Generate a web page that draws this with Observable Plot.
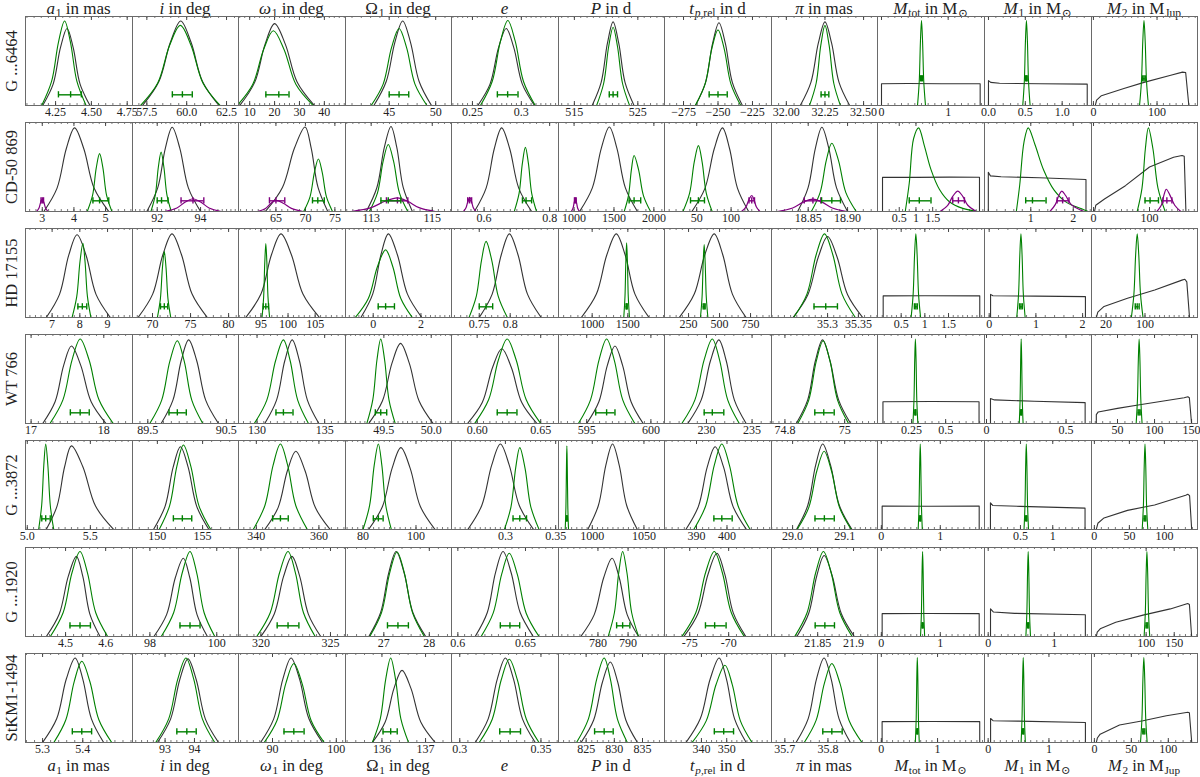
<!DOCTYPE html>
<html><head><meta charset="utf-8">
<script src="https://cdn.jsdelivr.net/npm/d3@7"></script>
<script src="https://cdn.jsdelivr.net/npm/@observablehq/plot@0.6"></script>
<style>
body{margin:0;background:#fff;}
#wrap{position:relative;width:1200px;height:777px;font-family:"Liberation Serif","DejaVu Serif",serif;color:#222;overflow:hidden;}
.ct{position:absolute;font-size:17px;white-space:nowrap;transform:translateX(-50%);line-height:18px;height:18px;}
.ct.bot{font-size:16.5px;line-height:16px;height:16px;}
.rl{position:absolute;font-size:16.5px;white-space:nowrap;transform:translate(-50%,-50%) rotate(-90deg);line-height:20px;}
.panel{position:absolute;}
sub{font-size:68%;vertical-align:baseline;position:relative;top:0.25em;line-height:0;margin-left:0.06em;}
</style></head><body><div id="wrap"></div><script>
// ---------------- DATA ----------------
const rowNames = ["G ...6464","CD-50 869","HD 17155","WT 766","G ...3872","G ...1920","StKM1-1494"];
const colTitles = [
  "<i>a</i><sub>1</sub> in mas","<i>i</i> in deg","<i>ω</i><sub>1</sub> in deg","Ω<sub>1</sub> in deg","<i>e</i>",
  "<i>P</i> in d","<i>t</i><sub><i>p</i>,rel</sub> in d","<i>π</i> in mas","<i>M</i><sub>tot</sub> in M<sub>⊙</sub>",
  "<i>M</i><sub>1</sub> in M<sub>⊙</sub>","<i>M</i><sub>2</sub> in M<sub>Jup</sub>"];

const xDomains = [
  [[4.04,4.787],[56.6,63.25],[5.5,48.5],[40.3,51.7],[0.2286,0.338],[512.5,529.2],[-288.8,-211.2],[31.904,32.59],[-0.06,1.545],[-0.054,1.398],[-3,163.6]],
  [[2.47,5.85],[90.86,95.75],[58.65,76.8],[112.16,115.63],[0.5006,0.827],[805,2133],[3.2,158.7],[18.8034,18.938],[-0.15,3.05],[-0.09,2.43],[-3.6,185.7]],
  [[6.04,9.9],[67.37,81.3],[90.86,110.6],[-1.16,3.28],[0.7052,0.878],[528,2014],[56,919],[35.209,35.381],[0,2.26],[-0.1,2.19],[-10,208]],
  [[16.923,18.395],[89.305,90.655],[128.63,136.54],[49.095,50.214],[0.5798,0.664],[592.8,601.06],[225.4,237.13],[74.755,75.11],[0,0.785],[-0.0126,0.66],[14.9,158]],
  [[4.986,5.834],[147.25,158.97],[334.3,368.5],[73.4,113.4],[0.2464,0.3528],[967.3,1069.9],[379.5,414.6],[28.9595,29.163],[-0.065,1.75],[-0.057,1.6],[-4.1,147.3]],
  [[4.4,4.667],[97.48,100.65],[318.39,326.08],[26.157,28.488],[0.5953,0.6744],[766.9,802.1],[-78.24,-64.5],[21.7856,21.9334],[-0.065,1.75],[-0.056,1.563],[2.8,191.4]],
  [[5.2575,5.5237],[91.89,95.5],[84.67,101.44],[135.164,137.595],[0.2949,0.3608],[820.1,838.9],[325.4,367.7],[35.669,35.915],[-0.068,1.835],[-0.06,1.7],[-3.9,139.5]]
];

const tickLabels = [
  [["4.25","4.50","4.75"],["57.5","60.0","62.5"],["10","20","30","40"],["45","50"],["0.25","0.3"],["515","525"],["−275","−250","−225"],["32.00","32.25","32.50"],["0","1"],["0.0","0.5","1.0"],["0","100"]],
  [["3","4","5"],["92","94"],["65","70","75"],["113","115"],["0.6","0.8"],["1000","1500","2000"],["50","100"],["18.85","18.90"],["0.5","1","1.5"],["1","2"],["0","100"]],
  [["7","8","9"],["70","75","80"],["95","100","105"],["0","2"],["0.75","0.8"],["1000","1500"],["250","500","750"],["35.3","35.35"],["0.5","1","1.5"],["0","1","2"],["20","100"]],
  [["17","18"],["89.5","90.5"],["130","135"],["49.5","50.0"],["0.60","0.65"],["595","600"],["230","235"],["74.8","75"],["0.25","0.5"],["0","0.5"],["50","100","150"]],
  [["5.0","5.5"],["150","155"],["340","360"],["80","100"],["0.3","0.35"],["1000","1050"],["390","400"],["29.0","29.1"],["0","1"],["0.5","1"],["0","50","100"]],
  [["4.5","4.6"],["98","100"],["320","325"],["27","28"],["0.6","0.65"],["780","790"],["-75","-70"],["21.85","21.9"],["0","1"],["0","1"],["100","150"]],
  [["5.3","5.4"],["93","94"],["90","100"],["136","137"],["0.3","0.35"],["825","830","835"],["340","350"],["35.7","35.8"],["0","1"],["0","1"],["0","50","100"]]
];

// black histograms, points [value, relative height]
const blackCurves = [
 [ // G ...6464
  [[4.16,0],[4.233,.24],[4.284,.65],[4.33,.865],[4.373,.65],[4.421,.24],[4.49,0]],
  [[57.225,0],[58.257,.27],[58.977,.71],[59.625,.95],[60.273,.71],[60.993,.27],[62.025,0]],
  [[6,0],[12.0,.26],[16.2,.69],[20,.92],[24.3,.69],[29.1,.26],[36,0]],
  [[43.35,0],[44.68,.27],[45.61,.71],[46.45,.95],[47.29,.71],[48.22,.27],[49.55,0]],
  [[.2555,0],[.268,.24],[.2767,.65],[.2845,.865],[.2923,.65],[.301,.24],[.3135,0]],
  [[517.8,0],[519.22,.26],[520.21,.7],[521.1,.94],[521.99,.7],[522.98,.26],[524.4,0]],
  [[-266.3,0],[-258.99,.26],[-253.89,.7],[-249.3,.93],[-244.71,.7],[-239.61,.26],[-232.3,0]],
  [[32.09,0],[32.159,.26],[32.207,.7],[32.25,.94],[32.293,.7],[32.341,.26],[32.41,0]],
  [[0,0],[0,.245],[0.4,.248],[0.9,.244],[1.48,.245],[1.48,0]],
  [[0,0],[0,.28],[.03,.26],[.15,.25],[.7,.245],[1.34,.24],[1.34,0]],
  [[3,0],[5,.06],[12.6,.11],[47.9,.19],[79.5,.26],[121.6,.34],[140,.375],[145,.37],[150,0]]
 ],
 [ // CD-50 869
  [[3.05,0],[3.467,.263],[3.758,.705],[4.02,.94],[4.312,.705],[4.636,.263],[5.1,0]],
  [[91.52,0],[92.023,.265],[92.374,.71],[92.69,.947],[93.044,.71],[93.437,.265],[94.0,0]],
  [[63.2,0],[66.1,.27],[68.13,.71],[69.95,.95],[70.99,.71],[72.14,.27],[73.8,0]],
  [[112.84,0],[113.188,.27],[113.431,.72],[113.65,.955],[113.839,.72],[114.049,.27],[114.35,0]],
  [[.5705,0],[.6062,.263],[.6311,.705],[.6535,.94],[.6782,.705],[.7057,.263],[.745,0]],
  [[1069,0],[1229,.266],[1341,.71],[1442,.95],[1537,.71],[1643,.266],[1794,0]],
  [[43,0],[62.1,.263],[75.5,.705],[87.5,.94],[97.8,.705],[109.2,.263],[125.5,0]],
  [[18.8366,0],[18.8498,.265],[18.8591,.71],[18.8674,.947],[18.8762,.71],[18.886,.265],[18.9,0]],
  [[0,0],[0,.385],[1.0,.383],[2.0,.386],[2.9,.385],[2.9,0]],
  [[0,0],[0,.44],[.05,.4],[.3,.39],[1.2,.38],[2.3,.36],[2.3,0]],
  [[1.8,0],[4,.07],[19.6,.14],[57,.29],[100,.5],[143,.61],[158,.63],[162,.62],[165,0]]
 ],
 [ // HD 17155
  [[6.79,0],[7.267,.26],[7.6,.7],[7.9,.93],[8.224,.7],[8.584,.26],[9.1,0]],
  [[68.1,0],[70.02,.263],[71.36,.705],[72.56,.94],[73.81,.705],[75.2,.263],[77.2,0]],
  [[92.2,0],[95.0,.263],[96.94,.705],[98.7,.94],[100.62,.705],[102.75,.263],[105.8,0]],
  [[-.515,0],[-.021,.263],[.325,.705],[.635,.94],[1.013,.705],[1.435,.263],[2.035,0]],
  [[.75,0],[.7709,.263],[.7856,.705],[.7987,.94],[.8126,.705],[.8279,.263],[.85,0]],
  [[848,0],[1059,.263],[1206,.705],[1338,.94],[1462,.705],[1600,.263],[1797,0]],
  [[175,0],[296,.263],[381,.705],[457,.94],[526,.705],[603.5,.263],[714,0]],
  [[35.244,0],[35.268,.255],[35.285,.68],[35.3,.91],[35.3154,.68],[35.3325,.255],[35.357,0]],
  [[.12,0],[.12,.243],[1.0,.245],[2.16,.243],[2.16,0]],
  [[.03,0],[.03,.26],[.08,.245],[1,.24],[2.06,.235],[2.06,0]],
  [[0,0],[3,.06],[15.8,.124],[64,.217],[120,.31],[176,.42],[182,.43],[186,.4],[191.6,0]]
 ],
 [ // WT 766
  [[17.16,0],[17.33,.244],[17.448,.653],[17.555,.87],[17.683,.653],[17.826,.244],[18.03,0]],
  [[89.67,0],[89.82,.263],[89.925,.705],[90.02,.94],[90.123,.705],[90.237,.263],[90.4,0]],
  [[130.57,0],[131.443,.263],[132.052,.705],[132.6,.94],[133.132,.705],[133.723,.263],[134.57,0]],
  [[49.34,0],[49.4845,.252],[49.585,.675],[49.676,.9],[49.769,.675],[49.872,.252],[50.02,0]],
  [[.5924,0],[.604,.235],[.6121,.63],[.6194,.84],[.6269,.63],[.6351,.235],[.647,0]],
  [[595.0,0],[595.946,.244],[596.606,.653],[597.2,.87],[597.794,.653],[598.454,.244],[599.4,0]],
  [[227.95,0],[229.416,.263],[230.439,.705],[231.36,.94],[232.167,.705],[233.064,.263],[234.35,0]],
  [[74.838,0],[74.876,.263],[74.902,.705],[74.926,.94],[74.951,.705],[74.98,.263],[75.02,0]],
  [[.04,0],[.04,.245],[.4,.247],[.745,.245],[.745,0]],
  [[.025,0],[.025,.28],[.05,.265],[.3,.25],[.62,.235],[.62,0]],
  [[21.4,0],[21.4,.1],[24,.13],[50,.17],[80,.21],[110,.25],[140,.29],[145,.3],[147,.29],[150,0]]
 ],
 [ // G ...3872
  [[5.15,0],[5.236,.263],[5.296,.705],[5.35,.94],[5.4405,.705],[5.541,.263],[5.685,0]],
  [[149.57,0],[150.85,.26],[151.745,.7],[152.55,.93],[153.4,.7],[154.35,.26],[155.7,0]],
  [[342.7,0],[346.96,.246],[349.93,.66],[352.6,.88],[355.57,.66],[358.87,.246],[363.6,0]],
  [[82.1,0],[87.35,.258],[91,.69],[94.3,.92],[97.78,.69],[101.65,.258],[107.2,0]],
  [[.2626,0],[.2765,.27],[.2863,.72],[.295,.96],[.3039,.72],[.3138,.27],[.328,0]],
  [[995.6,0],[1005.9,.27],[1013.1,.72],[1019.6,.96],[1026.1,.72],[1033.3,.27],[1043.6,0]],
  [[386.5,0],[390.63,.26],[393.51,.7],[396.1,.93],[398.88,.7],[401.97,.26],[406.4,0]],
  [[29.0074,0],[29.0291,.27],[29.0442,.72],[29.0578,.96],[29.073,.72],[29.0898,.27],[29.114,0]],
  [[.014,0],[.014,.264],[.8,.262],[1.66,.264],[1.66,0]],
  [[.035,0],[.035,.3],[.07,.27],[.5,.26],[1.5,.24],[1.5,0]],
  [[2.7,0],[5,.07],[13.8,.13],[47.3,.215],[86,.275],[130.5,.385],[133.4,.396],[136,.38],[139,0]]
 ],
 [ // G ...1920
  [[4.452,0],[4.4842,.252],[4.5067,.675],[4.527,.9],[4.543,.675],[4.5606,.252],[4.586,0]],
  [[98.12,0],[98.5,.246],[98.76,.66],[99.0,.88],[99.194,.66],[99.41,.246],[99.72,0]],
  [[320.0,0],[320.96,.252],[321.63,.675],[322.23,.9],[322.79,.675],[323.41,.252],[324.3,0]],
  [[26.67,0],[26.928,.267],[27.108,.716],[27.27,.955],[27.4455,.716],[27.64,.267],[27.92,0]],
  [[.6128,0],[.6217,.267],[.6278,.716],[.6334,.955],[.6394,.716],[.6461,.267],[.6557,0]],
  [[774.3,0],[778.77,.246],[781.9,.66],[784.7,.88],[787.08,.66],[789.7,.246],[793.5,0]],
  [[-75.75,0],[-73.92,.262],[-72.65,.7],[-71.5,.935],[-70.5,.7],[-69.4,.262],[-67.8,0]],
  [[21.821,0],[21.8373,.255],[21.8487,.68],[21.859,.91],[21.8703,.68],[21.883,.255],[21.901,0]],
  [[.014,0],[.014,.257],[.8,.259],[1.66,.257],[1.66,0]],
  [[.035,0],[.035,.31],[.08,.275],[.4,.26],[1.47,.245],[1.47,0]],
  [[11.4,0],[13,.05],[18.3,.087],[46,.16],[94.5,.24],[143,.31],[174,.37],[177,.36],[181,0]]
 ],
 [ // StKM1-1494
  [[5.3,0],[5.335,.266],[5.359,.713],[5.381,.95],[5.4,.713],[5.4215,.266],[5.452,0]],
  [[92.74,0],[93.187,.263],[93.499,.705],[93.78,.94],[94.061,.705],[94.373,.263],[94.82,0]],
  [[88.13,0],[90.19,.266],[91.62,.713],[92.91,.95],[94.24,.713],[95.71,.266],[97.83,0]],
  [[135.78,0],[136.072,.227],[136.276,.608],[136.46,.81],[136.665,.608],[136.893,.227],[137.22,0]],
  [[.3095,0],[.3175,.266],[.3231,.713],[.3281,.95],[.3331,.713],[.3386,.266],[.3465,0]],
  [[824.1,0],[826.34,.253],[827.9,.68],[829.3,.905],[830.6,.68],[832.04,.253],[834.1,0]],
  [[333.9,0],[339.53,.266],[343.46,.713],[347.0,.95],[349.89,.713],[353.1,.266],[357.7,0]],
  [[35.726,0],[35.754,.266],[35.7734,.713],[35.791,.95],[35.8075,.713],[35.8258,.266],[35.852,0]],
  [[.014,0],[.014,.234],[.9,.236],[1.75,.234],[1.75,0]],
  [[.04,0],[.04,.27],[.08,.245],[.5,.24],[1.6,.225],[1.6,0]],
  [[2.6,0],[4,.05],[7.8,.094],[34,.196],[65.8,.245],[97.4,.30],[126.4,.34],[128.5,.335],[131.7,0]]
 ]
];

// green histograms
const greenCurves = [
 [
  [[4.153,0],[4.222,.27],[4.27,.71],[4.313,.95],[4.354,.71],[4.399,.27],[4.463,0]],
  [[57.1,0],[58.175,.25],[58.925,.675],[59.6,.9],[60.275,.675],[61.025,.25],[62.1,0]],
  [[5,0],[11.2,.235],[15.6,.63],[19.5,.84],[23.8,.63],[28.6,.235],[35.5,0]],
  [[43.06,0],[44.35,.24],[45.25,.65],[46.06,.865],[46.87,.65],[47.77,.24],[49.06,0]],
  [[.2582,0],[.2702,.27],[.2786,.72],[.2862,.955],[.2938,.72],[.3022,.27],[.3142,0]],
  [[518.5,0],[519.62,.25],[520.4,.66],[521.1,.88],[521.8,.66],[522.58,.25],[523.7,0]],
  [[-266.5,0],[-259.4,.24],[-254.46,.64],[-250,.85],[-245.54,.64],[-240.6,.24],[-233.5,0]],
  [[32.15,0],[32.193,.25],[32.223,.675],[32.25,.9],[32.277,.675],[32.307,.25],[32.35,0]],
  [[.54,0],[.566,.27],[.584,.72],[.60,.955],[.616,.72],[.634,.27],[.66,0]],
  [[.465,0],[.4865,.27],[.5015,.72],[.515,.955],[.5285,.72],[.5435,.27],[.565,0]],
  [[72.5,0],[75.5,.27],[77.6,.72],[79.5,.955],[81.4,.72],[83.5,.27],[86.5,0]]
 ],
 [
  [[4.42,0],[4.588,.18],[4.705,.49],[4.81,.65],[4.915,.49],[5.032,.18],[5.2,0]],
  [[91.71,0],[91.912,.187],[92.053,.5],[92.18,.667],[92.307,.5],[92.448,.187],[92.65,0]],
  [[69.7,0],[70.78,.165],[71.53,.44],[72.2,.59],[72.85,.44],[73.57,.165],[74.6,0]],
  [[112.94,0],[113.207,.21],[113.393,.565],[113.56,.753],[113.733,.565],[113.925,.21],[114.2,0]],
  [[.692,0],[.7066,.2],[.7168,.54],[.726,.72],[.7352,.54],[.7454,.2],[.76,0]],
  [[1628,0],[1681,.176],[1718.5,.47],[1752,.63],[1808,.47],[1870,.176],[1959,0]],
  [[30,0],[39.7,.207],[46.4,.555],[52.5,.74],[57.9,.555],[63.9,.207],[72.5,0]],
  [[18.854,0],[18.8652,.215],[18.873,.575],[18.88,.767],[18.8884,.575],[18.8977,.215],[18.911,0]],
  [[.68,0],[.8,.32],[.93,.82],[1.08,.94],[1.25,.74],[1.45,.47],[1.7,.25],[2.0,.11],[2.4,.035],[2.85,0]],
  [[.66,0],[.74,.3],[.84,.78],[.94,.94],[1.1,.75],[1.3,.47],[1.55,.24],[1.85,.1],[2.2,.03],[2.35,0]],
  [[78,0],[86.6,.263],[92.6,.705],[98,.94],[106.1,.705],[115.1,.263],[128,0]]
 ],
 [
  [[7.72,0],[7.888,.234],[8.005,.626],[8.11,.835],[8.188,.626],[8.275,.234],[8.4,0]],
  [[70.64,0],[71.03,.207],[71.3,.555],[71.55,.74],[71.78,.555],[72.035,.207],[72.4,0]],
  [[95.2,0],[95.5,.232],[95.71,.622],[95.9,.83],[96.09,.622],[96.3,.232],[96.6,0]],
  [[-.75,0],[-.204,.213],[.177,.57],[.52,.76],[.822,.57],[1.158,.213],[1.64,0]],
  [[.7335,0],[.7453,.24],[.7536,.64],[.761,.855],[.7703,.64],[.7806,.24],[.7954,0]],
  [[1443,0],[1460,.235],[1472,.63],[1483,.84],[1494,.63],[1506,.235],[1523,0]],
  [[346,0],[359,.23],[368,.615],[376,.82],[384,.615],[393,.23],[406,0]],
  [[35.245,0],[35.2665,.263],[35.2815,.705],[35.295,.94],[35.3085,.705],[35.3235,.263],[35.345,0]],
  [[.71,0],[.753,.263],[.783,.705],[.81,.94],[.837,.705],[.867,.263],[.91,0]],
  [[.59,0],[.629,.263],[.656,.705],[.68,.94],[.704,.705],[.731,.263],[.77,0]],
  [[72,0],[77.2,.263],[80.8,.705],[84,.94],[87.2,.705],[90.8,.263],[96,0]]
 ],
 [
  [[17.26,0],[17.438,.266],[17.563,.713],[17.675,.95],[17.798,.713],[17.934,.266],[18.13,0]],
  [[89.525,0],[89.676,.26],[89.781,.7],[89.876,.93],[89.9635,.7],[90.061,.26],[90.2,0]],
  [[129.8,0],[130.724,.263],[131.37,.705],[131.95,.94],[132.45,.705],[133.005,.263],[133.8,0]],
  [[49.32,0],[49.383,.266],[49.427,.713],[49.467,.95],[49.508,.713],[49.554,.266],[49.62,0]],
  [[.598,0],[.609,.266],[.6167,.713],[.6236,.95],[.6307,.713],[.6386,.266],[.65,0]],
  [[594.35,0],[595.296,.266],[595.956,.713],[596.55,.95],[597.144,.713],[597.804,.266],[598.75,0]],
  [[227.3,0],[228.736,.266],[229.738,.713],[230.64,.95],[231.44,.713],[232.327,.266],[233.6,0]],
  [[74.843,0],[74.8795,.26],[74.905,.7],[74.928,.93],[74.951,.7],[74.9765,.26],[75.013,0]],
  [[.26,0],[.2677,.266],[.2731,.713],[.278,.95],[.2829,.713],[.2883,.266],[.296,0]],
  [[.206,0],[.2112,.266],[.2148,.713],[.218,.95],[.2212,.713],[.2248,.266],[.23,0]],
  [[75.2,0],[76.92,.266],[78.12,.713],[79.2,.95],[80.28,.713],[81.48,.266],[83.2,0]]
 ],
 [
  [[5.09,0],[5.114,.27],[5.131,.72],[5.146,.96],[5.1633,.72],[5.1825,.27],[5.21,0]],
  [[150.2,0],[151.35,.266],[152.16,.713],[152.88,.95],[153.695,.713],[154.6,.266],[155.9,0]],
  [[339,0],[342.74,.27],[345.35,.72],[347.7,.96],[350.02,.72],[352.6,.27],[356.3,0]],
  [[80,0],[82.5,.27],[84.23,.72],[85.8,.96],[87.12,.72],[88.6,.27],[90.7,0]],
  [[.299,0],[.3056,.258],[.3102,.69],[.3143,.92],[.3195,.69],[.3252,.258],[.3335,0]],
  [[973.8,0],[974.5,.263],[975,.705],[975.4,.94],[975.8,.705],[976.3,.263],[977,0]],
  [[389.1,0],[393.06,.27],[395.82,.72],[398.3,.96],[400.81,.72],[403.6,.27],[407.6,0]],
  [[29.0086,0],[29.031,.246],[29.0466,.66],[29.0606,.88],[29.0746,.66],[29.0902,.246],[29.1126,0]],
  [[.625,0],[.64,.27],[.6505,.72],[.66,.96],[.6695,.72],[.68,.27],[.695,0]],
  [[.555,0],[.57,.27],[.5805,.72],[.59,.96],[.5995,.72],[.61,.27],[.625,0]],
  [[68.3,0],[70.02,.27],[71.22,.72],[72.3,.96],[73.38,.72],[74.58,.27],[76.3,0]]
 ],
 [
  [[4.462,0],[4.4938,.267],[4.516,.716],[4.536,.955],[4.5546,.716],[4.5753,.267],[4.605,0]],
  [[98.34,0],[98.71,.267],[98.968,.716],[99.2,.955],[99.4,.716],[99.622,.267],[99.94,0]],
  [[319.7,0],[320.67,.267],[321.34,.716],[321.95,.955],[322.48,.716],[323.06,.267],[323.9,0]],
  [[26.69,0],[26.948,.266],[27.128,.713],[27.29,.95],[27.452,.713],[27.632,.266],[27.89,0]],
  [[.6172,0],[.6261,.262],[.6324,.7],[.638,.935],[.6439,.7],[.6505,.262],[.66,0]],
  [[783.4,0],[785.46,.267],[786.9,.716],[788.2,.955],[789.63,.716],[791.2,.267],[793.5,0]],
  [[-76.0,0],[-74.22,.267],[-72.97,.716],[-71.85,.955],[-70.81,.716],[-69.66,.267],[-68.0,0]],
  [[21.818,0],[21.8352,.267],[21.8472,.716],[21.858,.955],[21.8688,.716],[21.8808,.267],[21.898,0]],
  [[.665,0],[.68,.267],[.6905,.716],[.70,.955],[.7095,.716],[.72,.267],[.735,0]],
  [[.57,0],[.585,.267],[.5955,.716],[.605,.955],[.6145,.716],[.625,.267],[.64,0]],
  [[96.4,0],[98.55,.267],[100.05,.716],[101.4,.955],[102.75,.716],[104.25,.267],[106.4,0]]
 ],
 [
  [[5.328,0],[5.3579,.256],[5.3787,.685],[5.3975,.913],[5.4176,.685],[5.44,.256],[5.472,0]],
  [[92.68,0],[93.123,.266],[93.432,.713],[93.71,.95],[93.975,.713],[94.269,.266],[94.69,0]],
  [[88.7,0],[90.7,.248],[92.09,.665],[93.34,.887],[94.63,.665],[96.05,.248],[98.1,0]],
  [[135.78,0],[135.961,.266],[136.087,.713],[136.2,.95],[136.311,.713],[136.434,.266],[136.61,0]],
  [[.312,0],[.32,.262],[.3255,.702],[.3305,.936],[.3355,.702],[.341,.262],[.3488,0]],
  [[823.3,0],[825.41,.266],[826.88,.713],[828.2,.95],[829.3,.713],[830.54,.266],[832.3,0]],
  [[336.3,0],[341.89,.243],[345.79,.651],[349.3,.868],[352.19,.651],[355.4,.243],[360,0]],
  [[35.745,0],[35.7725,.248],[35.7917,.665],[35.809,.887],[35.8279,.665],[35.849,.248],[35.879,0]],
  [[.605,0],[.62,.267],[.6305,.716],[.64,.955],[.6495,.716],[.66,.267],[.675,0]],
  [[.542,0],[.557,.267],[.5675,.716],[.577,.955],[.5865,.716],[.597,.267],[.612,0]],
  [[62.4,0],[64.33,.267],[65.68,.716],[66.9,.955],[68.12,.716],[69.47,.267],[71.4,0]]
 ]
];

// purple histograms (CD-50 869 only)
const purpleRow = 1;
const purpleCurves = [
  [[2.82,0],[2.897,.04],[2.951,.105],[3.0,.14],[3.049,.105],[3.103,.04],[3.18,0]],
  [[92.35,0],[92.909,.04],[93.299,.107],[93.65,.143],[94.001,.107],[94.391,.04],[94.95,0]],
  [[61.9,0],[63.23,.035],[64.16,.093],[65.0,.124],[66.24,.093],[67.62,.035],[69.6,0]],
  [[112.35,0],[112.999,.043],[113.452,.115],[113.86,.154],[114.195,.115],[114.567,.043],[115.1,0]],
  [[.537,0],[.5452,.045],[.5509,.12],[.556,.16],[.5611,.12],[.5668,.045],[.575,0]],
  [[966,0],[987.5,.04],[1002.5,.105],[1016,.14],[1029.5,.105],[1044.5,.04],[1066,0]],
  [[115,0],[121.5,.05],[126,.135],[130,.18],[133.2,.135],[136.8,.05],[142,0]],
  [[18.811,0],[18.8303,.04],[18.8438,.105],[18.856,.14],[18.8676,.105],[18.8805,.04],[18.899,0]],
  [[1.72,0],[1.95,.07],[2.1,.17],[2.25,.23],[2.4,.17],[2.55,.07],[2.8,0]],
  [[1.45,0],[1.58,.08],[1.66,.18],[1.73,.23],[1.82,.18],[1.95,.08],[2.25,0]],
  [[113,0],[121,.07],[126,.19],[130,.25],[136,.19],[145,.07],[156,0]]
];

// error bars [low, median, high]
const greenErr = [
  [[4.27,4.355,4.43],[59.1,59.73,60.35],[16.5,21.7,25.8],[45.0,46.06,47.1],[.2755,.286,.2966],[520.5,521.1,521.8],[-256.4,-250,-243.3],[32.225,32.25,32.275],[.585,.60,.615],[.505,.515,.525],[77.5,79.5,81.5]],
  [[4.6,4.81,5.1],[92.0,92.2,92.5],[71.2,72.1,73.2],[113.32,113.56,113.97],[.717,.728,.745],[1690,1752,1835],[41,52.5,61.3],[18.867,18.88,18.891],[0.8,1.1,1.45],[0.88,1.04,1.36],[92,101,116]],
  [[7.93,8.09,8.25],[71.05,71.55,72.0],[95.43,95.9,96.4],[.21,.52,.89],[.75,.761,.7717],[1475,1483,1491],[368,376,384],[35.278,35.297,35.316],[.78,.81,.84],[.65,.68,.71],[80,84,88]],
  [[17.54,17.675,17.8],[89.77,89.876,89.99],[131.4,131.95,132.66],[49.41,49.467,49.53],[.6158,.6236,.6313],[595.7,596.55,597.2],[229.75,230.64,231.9],[74.9,74.93,74.965],[.274,.278,.282],[.215,.218,.221],[77.8,79.2,80.6]],
  [[5.115,5.146,5.182],[151.77,152.76,153.8],[345.2,347.7,350.2],[83.9,85.8,87.6],[.3076,.3143,.321],[975.0,975.4,975.8],[395.7,398.3,401.7],[29.043,29.061,29.08],[.65,.66,.67],[.58,.59,.60],[71,72.3,73.6]],
  [[4.511,4.536,4.562],[98.9,99.2,99.5],[321.17,321.95,322.73],[27.08,27.31,27.54],[.6314,.6385,.6457],[786.2,788.2,790.6],[-72.98,-71.8,-70.33],[21.8465,21.86,21.8734],[.69,.70,.71],[.595,.605,.615],[99.8,101.4,103]],
  [[5.374,5.3975,5.422],[93.4,93.74,94.06],[91.8,93.34,94.95],[136.025,136.2,136.35],[.3246,.331,.3374],[826.5,828.2,829.8],[345.1,348.8,352.7],[35.788,35.809,35.833],[.63,.64,.65],[.567,.577,.587],[65.5,66.9,68.3]]
];
const purpleErr = [[2.96,3.0,3.04],[93.1,93.65,94.15],[63.9,65.0,66.5],[113.5,113.86,114.2],[.550,.556,.562],[1005,1016,1027],[126,130,134],[18.845,18.856,18.866],[2.1,2.27,2.45],[1.62,1.75,1.9],[124,131,140]];

// ---------------- DRAWING ----------------
const wrap = document.getElementById("wrap");
const colLeft = c => Math.round(25 + c * 106.55);
const rowTop = r => Math.round(16 + r * 106.1);
const PH = 89, MT = 1, MB = 20;
const BLACK = "#333", GREEN = "#008000", PURPLE = "#800080";

function addDiv(cls, html, left, top) {
  const d = document.createElement("div");
  d.className = cls; d.innerHTML = html;
  d.style.left = left + "px"; d.style.top = top + "px";
  wrap.appendChild(d); return d;
}

colTitles.forEach((t, c) => {
  const cx = (colLeft(c) + colLeft(c + 1)) / 2;
  addDiv("ct", t, cx, 0);
  addDiv("ct bot", t, cx, 758);
});
rowNames.forEach((n, r) => addDiv("rl", n, 12, rowTop(r) + PH / 2));

function errMarks(e, y, color) {
  const [lo, mid, hi] = e;
  const caps = [lo, mid, hi].map(x => ({x, y1: y - 0.035, y2: y + 0.035}));
  return [
    Plot.ruleY([{lo, hi, y}], {x1: "lo", x2: "hi", y: "y", stroke: color, strokeWidth: 1.4}),
    Plot.ruleX(caps, {x: "x", y1: "y1", y2: "y2", stroke: color, strokeWidth: 1.4})
  ];
}

for (let r = 0; r < 7; r++) {
  for (let c = 0; c < 11; c++) {
    const dom = xDomains[r][c];
    const labels = tickLabels[r][c];
    const vals = labels.map(s => +s.replace("−", "-"));
    const fmt = new Map(vals.map((v, i) => [v, labels[i]]));
    const minor = d3.ticks(dom[0], dom[1], 16);
    const errY = (r === 0 && c >= 8) ? 0.3 : 0.12;
    const linear = c >= 8;
    const marks = [
      Plot.tickX(minor, {x: d => d, stroke: "#555", strokeWidth: 0.8, insetTop: PH - 2}),
      Plot.tickX(minor, {x: d => d, stroke: "#555", strokeWidth: 0.8, insetBottom: PH - 2}),
      Plot.tickX(vals, {x: d => d, stroke: "#333", strokeWidth: 0.9, insetTop: PH - 4}),
      Plot.tickX(vals, {x: d => d, stroke: "#333", strokeWidth: 0.9, insetBottom: PH - 4}),
      Plot.line(blackCurves[r][c], {x: d => d[0], y: d => d[1], stroke: BLACK, strokeWidth: 1.1,
        curve: linear ? "linear" : "catmull-rom", clip: true}),
      Plot.line(greenCurves[r][c], {x: d => d[0], y: d => d[1], stroke: GREEN, strokeWidth: 1.1,
        curve: "catmull-rom", clip: true})
    ];
    if (r === purpleRow) {
      marks.push(Plot.line(purpleCurves[c], {x: d => d[0], y: d => d[1], stroke: PURPLE, strokeWidth: 1.2,
        curve: "catmull-rom", clip: true}));
      marks.push(...errMarks(purpleErr[c], errY, PURPLE));
    }
    marks.push(...errMarks(greenErr[r][c], errY, GREEN));
    marks.push(Plot.frame({stroke: "#6a6a6a", strokeWidth: 1}));
    marks.push(Plot.axisX(vals, {anchor: "bottom", tickSize: 0, tickPadding: 2,
      tickFormat: d => fmt.get(d), fontSize: 12, fill: "#222"}));

    const w = colLeft(c + 1) - colLeft(c);
    const svg = Plot.plot({
      width: w, height: PH + MT + MB,
      marginLeft: 0, marginRight: 0, marginTop: MT, marginBottom: MB,
      style: {background: "transparent", overflow: "visible", fontFamily: "Liberation Serif, DejaVu Serif, serif"},
      x: {domain: dom},
      y: {domain: [0, 1], axis: null},
      marks
    });
    const holder = document.createElement("div");
    holder.className = "panel";
    holder.style.left = colLeft(c) + "px";
    holder.style.top = (rowTop(r) - MT) + "px";
    holder.style.width = w + "px";
    holder.appendChild(svg);
    wrap.appendChild(holder);
  }
}
</script></body></html>
